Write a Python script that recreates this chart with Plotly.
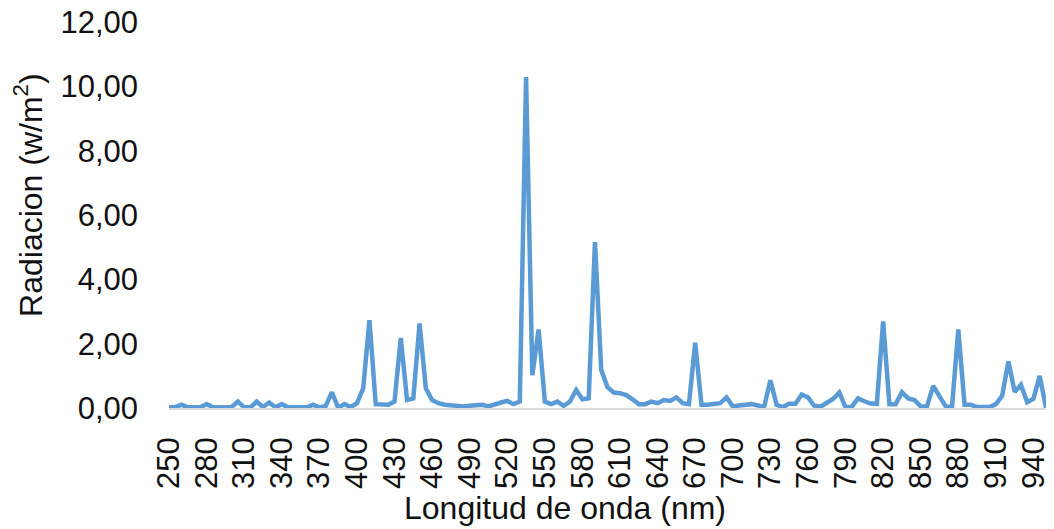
import plotly.graph_objects as go

# Wavelength categories (nm), one reading every 5 nm
longitud = [str(nm) for nm in range(250, 955, 5)]

# Spectral radiation (W/m²) for each wavelength
radiacion = [
    0.02, 0.03, 0.10, 0.02, 0.02, 0.02, 0.12, 0.02, 0.02, 0.02,   # 250-295
    0.03, 0.20, 0.02, 0.02, 0.20, 0.03, 0.17, 0.02, 0.12, 0.02,   # 300-345
    0.02, 0.02, 0.02, 0.10, 0.02, 0.06, 0.49, 0.01, 0.12, 0.03,   # 350-395
    0.15, 0.61, 2.73, 0.12, 0.10, 0.10, 0.20, 2.18, 0.25, 0.30,   # 400-445
    2.63, 0.61, 0.25, 0.15, 0.10, 0.08, 0.05, 0.05, 0.07, 0.10,   # 450-495
    0.10, 0.05, 0.12, 0.17, 0.22, 0.12, 0.20, 10.29, 1.02, 2.44,  # 500-545
    0.20, 0.12, 0.20, 0.07, 0.20, 0.56, 0.27, 0.30, 5.16, 1.18,   # 550-595
    0.65, 0.48, 0.46, 0.40, 0.27, 0.12, 0.12, 0.20, 0.15, 0.25,   # 600-645
    0.22, 0.33, 0.15, 0.12, 2.03, 0.10, 0.10, 0.13, 0.15, 0.33,   # 650-695
    0.05, 0.08, 0.10, 0.12, 0.08, 0.03, 0.86, 0.10, 0.03, 0.13,   # 700-745
    0.13, 0.42, 0.33, 0.07, 0.04, 0.18, 0.28, 0.48, 0.03, 0.04,   # 750-795
    0.30, 0.21, 0.14, 0.13, 2.69, 0.12, 0.12, 0.49, 0.30, 0.25,   # 800-845
    0.05, 0.05, 0.69, 0.36, 0.05, 0.04, 2.44, 0.10, 0.10, 0.03,   # 850-895
    0.03, 0.03, 0.12, 0.38, 1.45, 0.50, 0.72, 0.18, 0.29, 1.00,   # 900-945
    0.00,                                                         # 950
]

# Labelled wavelengths on the x axis (every 30 nm)
etiquetas_x = [str(nm) for nm in range(250, 945, 30)]

# y-axis ticks
ticks_y = [0, 2, 4, 6, 8, 10, 12]

FONT = "Liberation Sans, Arial, sans-serif"
TEXT = "#111111"
SIZE = 31
TITLE_SIZE = 32

fig = go.Figure(
    go.Scatter(
        x=longitud,
        y=radiacion,
        mode="lines",
        line=dict(color="#5B9BD5", width=4.5),
        hoverinfo="x+y",
    )
)

fig.update_layout(
    width=1054,
    height=529,
    margin=dict(l=169, r=8, t=22, b=121),
    paper_bgcolor="white",
    plot_bgcolor="white",
    separators=",.",
    showlegend=False,
    font=dict(family=FONT, size=SIZE, color=TEXT),
)

fig.update_xaxes(
    type="category",
    range=[0, len(longitud) - 1],
    tickmode="array",
    tickvals=etiquetas_x,
    ticktext=etiquetas_x,
    tickangle=-90,
    ticks="",
    ticklabelstandoff=15,
    showgrid=False,
    showline=True,
    linecolor="#D9D9D9",
    linewidth=1.5,
    zeroline=False,
    automargin=False,
    tickfont=dict(family=FONT, size=SIZE, color=TEXT),
)

fig.update_yaxes(
    range=[0, 12],
    tickmode="array",
    tickvals=ticks_y,
    tickformat=".2f",
    ticks="",
    ticklabelstandoff=30,
    showgrid=False,
    showline=False,
    zeroline=False,
    automargin=False,
    tickfont=dict(family=FONT, size=SIZE, color=TEXT),
)

# Axis titles placed as free text beside the plot area
fig.add_annotation(
    text="Longitud de onda (nm)",
    xref="paper", yref="paper", x=0.4515, y=0,
    xanchor="center", yanchor="middle", yshift=-100,
    showarrow=False,
    font=dict(family=FONT, size=TITLE_SIZE, color=TEXT),
)
fig.add_annotation(
    text="Radiacion (w/m<sup>2</sup>)",
    xref="paper", yref="paper", x=0, y=0.552,
    xanchor="center", yanchor="middle", xshift=-141,
    textangle=-90,
    showarrow=False,
    font=dict(family=FONT, size=TITLE_SIZE, color=TEXT),
)

fig.write_html("out.html")
